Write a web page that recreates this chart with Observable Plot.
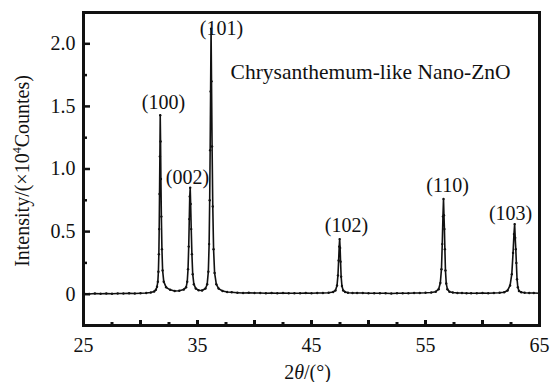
<!DOCTYPE html>
<html>
<head>
<meta charset="utf-8">
<script src="https://cdn.jsdelivr.net/npm/d3@7"></script>
<script src="https://cdn.jsdelivr.net/npm/@observablehq/plot@0.6"></script>
<style>
  html, body { margin: 0; padding: 0; background: white; }
</style>
</head>
<body>
<div id="chart"></div>
<script>
// 2θ (degrees) and intensity (×10^4 counts)
const twoTheta = [
  25.0, 25.5, 26.0, 26.5, 27.0, 27.5, 28.0, 28.5, 29.0, 29.5, 30.0, 30.5, 30.9, 31.2, 31.35, 31.45,
  31.52, 31.57, 31.61, 31.64, 31.67, 31.70, 31.73, 31.76, 31.79, 31.83, 31.88, 31.94, 32.04, 32.25,
  32.6, 33.0, 33.4, 33.8, 34.0, 34.1, 34.17, 34.23, 34.28, 34.32, 34.36, 34.40, 34.45, 34.51, 34.58,
  34.68, 34.85, 35.1, 35.4, 35.7, 35.85, 35.95, 36.02, 36.07, 36.11, 36.15, 36.19, 36.23, 36.28,
  36.34, 36.41, 36.5, 36.65, 36.85, 37.2, 37.6, 38.0, 38.5, 39.0, 39.5, 40.0, 40.5, 41.0, 41.5, 42.0,
  42.5, 43.0, 43.5, 44.0, 44.5, 45.0, 45.5, 46.0, 46.5, 46.9, 47.1, 47.24, 47.32, 47.38, 47.43,
  47.47, 47.51, 47.55, 47.6, 47.67, 47.78, 47.95, 48.2, 48.6, 49.0, 49.5, 50.0, 50.5, 51.0, 51.5,
  52.0, 52.5, 53.0, 53.5, 54.0, 54.5, 55.0, 55.5, 55.9, 56.15, 56.3, 56.4, 56.47, 56.53, 56.58,
  56.62, 56.66, 56.7, 56.75, 56.82, 56.92, 57.1, 57.4, 57.8, 58.2, 58.6, 59.0, 59.5, 60.0, 60.5, 61.0,
  61.5, 61.9, 62.2, 62.42, 62.57, 62.68, 62.76, 62.82, 62.87, 62.92, 62.97, 63.03, 63.1, 63.2, 63.4,
  63.7, 64.1, 64.5, 65.0
];
const intensity = [
  0.005, 0.002, 0.006, 0.003, 0.005, 0.004, 0.006, 0.005, 0.007, 0.006, 0.008, 0.010, 0.014, 0.022, 0.035, 0.06,
  0.10, 0.18, 0.32, 0.52, 0.80, 1.10, 1.43, 1.22, 0.92, 0.62, 0.36, 0.19, 0.10, 0.055,
  0.035, 0.026, 0.028, 0.038, 0.055, 0.10, 0.20, 0.38, 0.60, 0.78, 0.85, 0.72, 0.52, 0.32, 0.16,
  0.08, 0.045, 0.032, 0.03, 0.045, 0.08, 0.18, 0.40, 0.75, 1.15, 1.62, 2.12, 1.70, 1.18,
  0.70, 0.36, 0.17, 0.08, 0.045, 0.026, 0.018, 0.015, 0.012, 0.010, 0.011, 0.009, 0.010, 0.008, 0.009, 0.008,
  0.009, 0.007, 0.008, 0.008, 0.009, 0.008, 0.009, 0.010, 0.012, 0.018, 0.03, 0.07, 0.15, 0.27, 0.38,
  0.44, 0.37, 0.26, 0.14, 0.065, 0.03, 0.018, 0.012, 0.010, 0.010, 0.009, 0.008, 0.007, 0.008, 0.007,
  0.006, 0.008, 0.007, 0.008, 0.009, 0.010, 0.011, 0.014, 0.02, 0.04, 0.09, 0.20, 0.40, 0.62, 0.76,
  0.63, 0.52, 0.36, 0.19, 0.085, 0.04, 0.02, 0.013, 0.010, 0.009, 0.008, 0.008, 0.008, 0.009, 0.008, 0.010,
  0.011, 0.016, 0.03, 0.07, 0.16, 0.33, 0.48, 0.56, 0.45, 0.36, 0.25, 0.12, 0.055, 0.025, 0.015,
  0.012, 0.010, 0.009, 0.008
];

// peak labels (Miller indices) and their positions in data units
const hkl = ["(100)", "(002)", "(101)", "(102)", "(110)", "(103)"];
const hklX = [32.02, 34.12, 37.1, 48.07, 56.93, 62.46];
const hklY = [1.53, 0.93, 2.12, 0.544, 0.864, 0.64];

const sampleName = ["Chrysanthemum-like Nano-ZnO"];
const sampleX = [37.9];
const sampleY = [1.776];

// axis ticks
const xMajorTicks = [30, 35, 40, 45, 50, 55, 60];
const xMinorTicks = [27.5, 32.5, 37.5, 42.5, 47.5, 52.5, 57.5, 62.5];
const xTickLabels = [25, 35, 45, 55, 65];
const yMajorTicks = [0, 0.5, 1.0, 1.5, 2.0];
const yMinorTicks = [0.25, 0.75, 1.25, 1.75];
const yLabel = "Intensity/(×10⁴Countes)";
const xLabel = "2θ/(°)";

const data = twoTheta.map((x, i) => ({x, y: intensity[i]}));
const peaks = hkl.map((t, i) => ({t, x: hklX[i], y: hklY[i]}));

const ink = "#111";

const chart = Plot.plot({
  width: 554,
  height: 382,
  marginLeft: 83,
  marginRight: 15,
  marginTop: 12,
  marginBottom: 57,
  style: {fontFamily: "'Liberation Serif', 'Times New Roman', serif", fontSize: "20px", background: "white", color: "black"},
  x: {domain: [25, 65], axis: null},
  y: {domain: [-0.25, 2.25], axis: null},
  marks: [
    Plot.axisX(xMajorTicks, {anchor: "bottom", tickSize: -5, strokeWidth: 3, stroke: ink, tickFormat: () => "", label: null}),
    Plot.axisX(xMinorTicks, {anchor: "bottom", tickSize: -3, strokeWidth: 3, stroke: ink, tickFormat: () => "", label: null}),
    Plot.axisX(xTickLabels, {anchor: "bottom", tickSize: 0, tickPadding: 12, fontSize: 20, fill: ink, tickFormat: d => String(d), label: null}),
    Plot.axisY(yMajorTicks, {anchor: "left", tickSize: -7, strokeWidth: 2.5, stroke: ink, tickFormat: () => "", label: null}),
    Plot.axisY(yMinorTicks, {anchor: "left", tickSize: -4, strokeWidth: 2.5, stroke: ink, tickFormat: () => "", label: null}),
    Plot.axisY(yMajorTicks, {anchor: "left", tickSize: 0, tickPadding: 8, fontSize: 20, fill: ink, tickFormat: d => d === 0 ? "0" : d.toFixed(1), label: null}),
    Plot.frame({stroke: ink, strokeWidth: 3}),
    Plot.line(data, {x: "x", y: "y", stroke: ink, strokeWidth: 1.6}),
    Plot.dot(data, {x: "x", y: "y", r: 1.2, fill: ink, stroke: null}),
    Plot.text(peaks, {x: "x", y: "y", text: "t", fontSize: 20, fill: ink}),
    Plot.text(sampleName, {x: sampleX, y: sampleY, text: d => d, textAnchor: "start", fontSize: 21.5, fill: ink}),
    Plot.text([yLabel], {frameAnchor: "left", textAnchor: "middle", lineAnchor: "middle", dx: -61, dy: 2, rotate: -90, fontSize: 20, fill: ink}),
    Plot.text([xLabel], {frameAnchor: "bottom", textAnchor: "middle", lineAnchor: "middle", dy: 47, dx: -4, fontSize: 20, fill: ink})
  ]
});

document.getElementById("chart").appendChild(chart);

// rich text: superscript 4 and italic theta
d3.select(chart).selectAll("text").each(function() {
  const t = this.textContent;
  if (t === yLabel) {
    this.innerHTML = 'Intensity/(×10<tspan dy="-8" font-size="12">4</tspan><tspan dy="8">Countes)</tspan>';
  } else if (t === xLabel) {
    this.innerHTML = '2<tspan font-style="italic">θ</tspan>/(°)';
  }
});
</script>
</body>
</html>
